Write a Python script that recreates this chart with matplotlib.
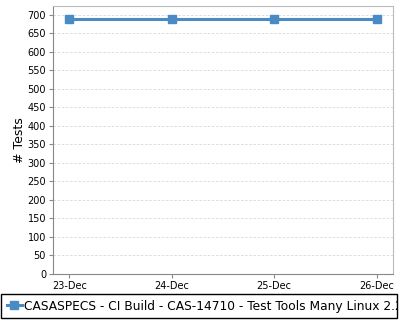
import matplotlib
matplotlib.use("Agg")
import matplotlib.pyplot as plt
from matplotlib.patches import Rectangle
from matplotlib.transforms import Bbox, TransformedBbox

# data
dates = ["23-Dec", "24-Dec", "25-Dec", "26-Dec"]
tests = [690, 690, 690, 690]
series_name = "CASASPECS - CI Build - CAS-14710 - Test Tools Many Linux 2.28"
yticks = list(range(0, 701, 50))

fig = plt.figure(figsize=(4, 3.2), dpi=100)
ax = fig.add_axes([0.1325, 0.144, 0.85, 0.837])

x = list(range(len(dates)))
ax.plot(x, tests, color="#4a8bc6", lw=2.2, marker="s", ms=5.5,
        label=series_name)

ax.set_xlim(-0.16, len(dates) - 1 + 0.16)
ax.set_ylim(0, 724)
ax.set_xticks(x)
ax.set_xticklabels(dates)
ax.set_yticks(yticks)
ax.tick_params(labelsize=7, length=3, color="#888888", pad=2)
ax.grid(axis="y", color="#d8d8d8", ls=(0, (3, 2)), lw=0.6)
ax.set_axisbelow(True)

for s in ["left", "bottom"]:
    ax.spines[s].set_color("#888888")
for s in ["top", "right"]:
    ax.spines[s].set_color("#bbbbbb")

ax.set_ylabel("# Tests", fontsize=9, labelpad=1)

# legend box has a fixed width, the long name runs past it and gets cut
box = (0.0025, 0.006, 0.99, 0.075)
leg = fig.legend(loc="lower left", bbox_to_anchor=box[:2],
                 fontsize=8.8, frameon=False,
                 handlelength=1.3, handletextpad=0.15, borderpad=0.45,
                 borderaxespad=0)
clip = TransformedBbox(Bbox.from_bounds(*box), fig.transFigure)
for t in leg.get_texts():
    t.set_clip_box(clip)
    t.set_clip_on(True)
fig.add_artist(Rectangle(box[:2], box[2], box[3], transform=fig.transFigure,
                         fill=False, edgecolor="black", lw=1))

fig.savefig("out.png", dpi=100)
